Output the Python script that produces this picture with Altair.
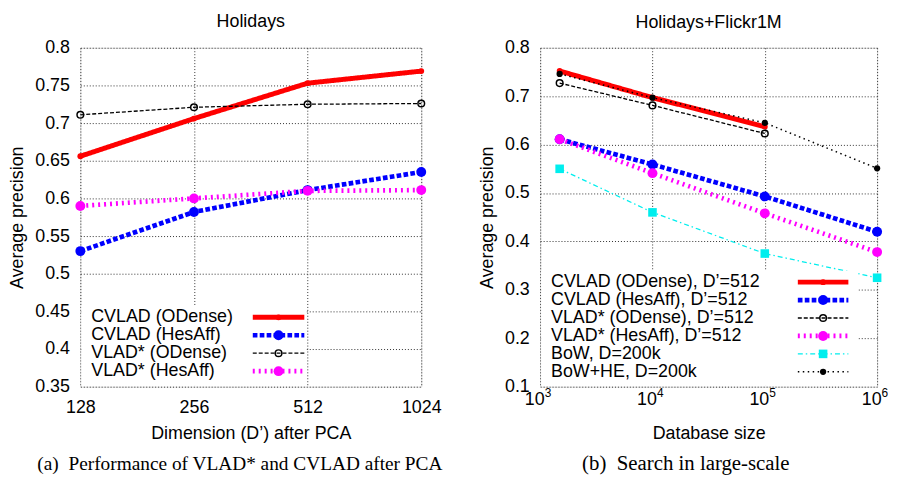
import altair as alt
import pandas as pd

# ---------------- data: panel (a) ----------------
dims = [128, 256, 512, 1024]
cvlad_odense_a = [0.656, 0.706, 0.753, 0.769]
cvlad_hesaff_a = [0.530, 0.582, 0.611, 0.635]
vlad_odense_a = [0.711, 0.721, 0.725, 0.726]
vlad_hesaff_a = [0.590, 0.600, 0.610, 0.611]
labels_a = ["CVLAD (ODense)", "CVLAD (HesAff)", "VLAD* (ODense)", "VLAD* (HesAff)"]
yticks_a = [0.35, 0.4, 0.45, 0.5, 0.55, 0.6, 0.65, 0.7, 0.75, 0.8]

# ---------------- data: panel (b) ----------------
db_sizes = [1491, 10000, 100000, 1000000]
cvlad_odense_b = [0.752, 0.697, 0.637]
cvlad_hesaff_b = [0.611, 0.559, 0.493, 0.420]
vlad_odense_b = [0.727, 0.681, 0.623]
vlad_hesaff_b = [0.611, 0.541, 0.458, 0.378]
bow_b = [0.550, 0.460, 0.375, 0.325]
bowhe_b = [0.746, 0.697, 0.645, 0.551]
labels_b = ["CVLAD (ODense), D\u2019=512", "CVLAD (HesAff), D\u2019=512",
            "VLAD* (ODense), D\u2019=512", "VLAD* (HesAff), D\u2019=512",
            "BoW, D=200k", "BoW+HE, D=200k"]
xticks_b = [1000, 10000, 100000, 1000000]
xexp_b = ["3", "4", "5", "6"]
yticks_b = [0.1, 0.2, 0.3, 0.4, 0.5, 0.6, 0.7, 0.8]

FONT = "Liberation Sans"
FS = 18

# styles (keyed by series kind)
STY = {
    "cvlad_od": dict(color="#ff0000", dash=[1, 0], width=5, shape="circle", size=35, filled=True),
    "cvlad_ha": dict(color="#0000ff", dash=[4.7, 2.3], width=4.7, shape="circle", size=100, filled=True),
    "vlad_od": dict(color="#000000", dash=[4, 2], width=1.3, shape="circle", size=45, filled=False),
    "vlad_ha": dict(color="#ff00ff", dash=[2, 4], width=4.7, shape="circle", size=100, filled=True),
    "bow": dict(color="#00eeee", dash=[5, 3, 1.5, 3], width=1.3, shape="square", size=75, filled=True),
    "bowhe": dict(color="#000000", dash=[1.5, 3.5], width=1.5, shape="circle", size=40, filled=True),
}


def make_df(xs, series_map):
    rows = []
    for key, vals in series_map:
        for x, v in zip(xs, vals):
            rows.append({"x": x, "y": v, "s": key})
    return pd.DataFrame(rows)


def point_mark(chart, st):
    if st["filled"]:
        return chart.mark_point(shape=st["shape"], size=st["size"], filled=True,
                                color=st["color"], opacity=1, clip=False)
    return chart.mark_point(shape=st["shape"], size=st["size"], filled=False,
                            color=st["color"], strokeWidth=1.5, opacity=1, clip=False)


def panel(df, keys, labels, xenc, yenc, W, H, title, title_y, legend_y0, leg_x1, leg_x2,
          rect, caption, cap_x, cap_y, cap_fs, extra=None):
    layers = []
    base = alt.Chart(df)
    for k in keys:
        st = STY[k]
        sub = base.transform_filter(alt.datum.s == k)
        layers.append(sub.mark_line(color=st["color"], strokeDash=st["dash"],
                                    strokeWidth=st["width"], clip=False).encode(x=xenc, y=yenc))
        layers.append(point_mark(sub, st).encode(x=xenc, y=yenc))
    # legend background
    one = pd.DataFrame({"t": [""]})
    layers.append(alt.Chart(one).mark_rect(color="white").encode(
        x=alt.value(rect[0]), x2=alt.value(rect[1]), y=alt.value(rect[2]), y2=alt.value(rect[3])))
    xc = (leg_x1 + leg_x2) / 2
    for i, (k, lab) in enumerate(zip(keys, labels)):
        st = STY[k]
        ry = legend_y0 + i * 18.1
        d = pd.DataFrame({"t": [lab]})
        layers.append(alt.Chart(d).mark_text(align="left", baseline="middle", font=FONT,
                                             fontSize=FS, color="black").encode(
            x=alt.value(11), y=alt.value(ry), text="t:N"))
        layers.append(alt.Chart(d).mark_rule(color=st["color"], strokeDash=st["dash"],
                                             strokeWidth=st["width"]).encode(
            x=alt.value(leg_x1), x2=alt.value(leg_x2), y=alt.value(ry)))
        layers.append(point_mark(alt.Chart(d), st).encode(x=alt.value(xc), y=alt.value(ry)))
    if extra is not None:
        layers.append(extra)
    cap = alt.Chart(pd.DataFrame({"t": [caption]})).mark_text(
        align="center", baseline="alphabetic", font="Liberation Serif", fontSize=cap_fs,
        color="black").encode(x=alt.value(cap_x), y=alt.value(cap_y), text="t:N")
    layers.append(cap)
    ttl = alt.Chart(pd.DataFrame({"t": [title]})).mark_text(
        align="center", baseline="alphabetic", font=FONT, fontSize=FS,
        color="black").encode(x=alt.value(W / 2), y=alt.value(title_y), text="t:N")
    layers.append(ttl)
    return alt.layer(*layers).properties(width=W, height=H)


axis_common = dict(domain=False, ticks=False, labelFontSize=FS, titleFontSize=FS,
                   labelFont=FONT, titleFont=FONT, titleFontWeight="normal",
                   labelColor="black", titleColor="black", grid=True,
                   gridDash=[1, 2], gridColor="#333333", gridWidth=1)

# ---- panel (a)
df_a = make_df(dims, [("cvlad_od", cvlad_odense_a), ("cvlad_ha", cvlad_hesaff_a),
                      ("vlad_od", vlad_odense_a), ("vlad_ha", vlad_hesaff_a)])
Wa, Ha = 344, 342
xa = alt.X("x:Q", scale=alt.Scale(type="log", base=2, domain=[128, 1024], nice=False),
           axis=alt.Axis(values=dims, format="d", title="Dimension (D\u2019) after PCA",
                         labelPadding=12, titlePadding=8, labelFlush=False, **axis_common))
ya = alt.Y("y:Q", scale=alt.Scale(domain=[0.35, 0.8], nice=False, zero=False),
           axis=alt.Axis(values=yticks_a, format=".2~f", title="Average precision",
                         labelPadding=11, titlePadding=8, labelFlush=False, **axis_common))
pa = panel(df_a, ["cvlad_od", "cvlad_ha", "vlad_od", "vlad_ha"], labels_a, xa, ya, Wa, Ha,
           "Holidays", -21, 272, 174, 226, [1, 228, 260, Ha - 1],
           "(a)\u00a0\u00a0Performance of VLAD* and CVLAD after PCA", 161, 426, 19.5)

# ---- panel (b)
df_b = pd.concat([
    make_df(db_sizes[:3], [("cvlad_od", cvlad_odense_b)]),
    make_df(db_sizes, [("cvlad_ha", cvlad_hesaff_b)]),
    make_df(db_sizes[:3], [("vlad_od", vlad_odense_b)]),
    make_df(db_sizes, [("vlad_ha", vlad_hesaff_b), ("bow", bow_b), ("bowhe", bowhe_b)]),
], ignore_index=True)
Wb, Hb = 340, 342
xscale_b = alt.Scale(type="log", domain=[1000, 1000000], nice=False)
xb = alt.X("x:Q", scale=xscale_b,
           axis=alt.Axis(values=xticks_b, labelExpr="'10'", title="Database size",
                         labelPadding=4, labelOffset=-6, titlePadding=16, labelFlush=False,
                         **axis_common))
yb = alt.Y("y:Q", scale=alt.Scale(domain=[0.1, 0.8], nice=False, zero=False),
           axis=alt.Axis(values=yticks_b, format=".1f", title="Average precision",
                         labelPadding=11, titlePadding=8, labelFlush=False, **axis_common))
exp_df = pd.DataFrame({"x": xticks_b, "e": xexp_b})
exps = alt.Chart(exp_df).mark_text(align="left", baseline="alphabetic", dx=4.5, font=FONT,
                                   fontSize=12, color="black").encode(
    x=alt.X("x:Q", scale=xscale_b), y=alt.value(Hb + 10), text="e:N")
pb = panel(df_b, ["cvlad_od", "cvlad_ha", "vlad_od", "vlad_ha", "bow", "bowhe"], labels_b,
           xb, yb, Wb, Hb, "Holidays+Flickr1M", -20, 236.5, 260, 311, [1, 321, 225, Hb - 1],
           "(b)\u00a0\u00a0Search in large-scale", 147, 426, 21, extra=exps)

chart = alt.hconcat(pa, pb, spacing=34).properties(
    padding={"left": 0, "top": 2, "right": 0, "bottom": 0}
).configure_view(stroke="black", strokeWidth=1.5).configure(font=FONT)

chart.save("out.html", embed_options={"renderer": "svg", "actions": False})
